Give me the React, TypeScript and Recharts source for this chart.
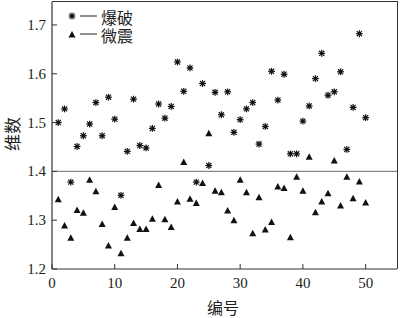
import React from "react";
import {
  ScatterChart,
  Scatter,
  XAxis,
  YAxis,
  ReferenceLine,
} from "recharts";

const ids: number[] = Array.from({ length: 50 }, (_, i) => i + 1);

const blastValues: number[] = [
  1.5, 1.528, 1.378, 1.451, 1.473, 1.497, 1.541, 1.473, 1.552, 1.507,
  1.351, 1.441, 1.548, 1.453, 1.448, 1.488, 1.538, 1.509, 1.533, 1.624,
  1.564, 1.612, 1.378, 1.58, 1.412, 1.562, 1.516, 1.563, 1.48, 1.506,
  1.528, 1.541, 1.456, 1.492, 1.605, 1.546, 1.599, 1.436, 1.436, 1.503,
  1.534, 1.59, 1.642, 1.556, 1.563, 1.604, 1.445, 1.531, 1.682, 1.51,
];

const quakeValues: number[] = [
  1.342, 1.288, 1.263, 1.32, 1.314, 1.382, 1.358, 1.291, 1.247, 1.326,
  1.231, 1.263, 1.293, 1.281, 1.281, 1.302, 1.371, 1.301, 1.285, 1.337,
  1.418, 1.343, 1.334, 1.375, 1.477, 1.359, 1.356, 1.319, 1.299, 1.382,
  1.356, 1.272, 1.346, 1.28, 1.295, 1.368, 1.365, 1.264, 1.388, 1.359,
  1.429, 1.315, 1.337, 1.354, 1.421, 1.329, 1.388, 1.344, 1.378, 1.335,
];

const seriesNames: string[] = ["爆破", "微震"];
const xTicks: number[] = [0, 10, 20, 30, 40, 50];
const yTicks: number[] = [1.2, 1.3, 1.4, 1.5, 1.6, 1.7];
const X_MIN = 0;
const X_MAX = 55;
const Y_MIN = 1.2;
const Y_MAX = 1.747;
const THRESHOLD = 1.4;

const blastData = ids.map((id, i) => ({ x: id, y: blastValues[i] }));
const quakeData = ids.map((id, i) => ({ x: id, y: quakeValues[i] }));

const AXIS = "#333";
const SERIF = "'Liberation Serif', 'Times New Roman', serif";
const CJK = "'Noto Sans CJK SC', sans-serif";

const CHART_W = 400;
const CHART_H = 318;
const MARGIN = { top: 2, right: 3, left: 0, bottom: 0 };
const Y_AXIS_W = 52;
const X_AXIS_H = 49;

const Star = (props: any) => {
  const { cx, cy } = props;
  if (cx == null || cy == null) return null;
  const r = 3.4;
  const d = r * 0.75;
  return (
    <g stroke="#111" strokeWidth={1.2}>
      <line x1={cx - r} y1={cy} x2={cx + r} y2={cy} />
      <line x1={cx} y1={cy - r} x2={cx} y2={cy + r} />
      <line x1={cx - d} y1={cy - d} x2={cx + d} y2={cy + d} />
      <line x1={cx - d} y1={cy + d} x2={cx + d} y2={cy - d} />
      <circle cx={cx} cy={cy} r={1.6} fill="#111" stroke="none" />
    </g>
  );
};

const Tri = (props: any) => {
  const { cx, cy } = props;
  if (cx == null || cy == null) return null;
  const h = 6.5;
  const w = 7;
  return (
    <polygon
      points={`${cx},${cy - h * 0.62} ${cx - w / 2},${cy + h * 0.38} ${cx + w / 2},${cy + h * 0.38}`}
      fill="#111"
    />
  );
};

const XTick = (props: any) => {
  const { x, y, payload } = props;
  return (
    <g>
      <line x1={x} y1={y} x2={x} y2={y - 5} stroke={AXIS} strokeWidth={1} />
      <text
        x={x}
        y={y + 19}
        textAnchor="middle"
        fontFamily={SERIF}
        fontSize={15}
        fill="#222"
      >
        {payload.value}
      </text>
    </g>
  );
};

const YTick = (props: any) => {
  const { x, y, payload } = props;
  return (
    <g>
      <line x1={x} y1={y} x2={x + 5} y2={y} stroke={AXIS} strokeWidth={1} />
      <text
        x={x - 6}
        y={y + 5}
        textAnchor="end"
        fontFamily={SERIF}
        fontSize={15}
        fill="#222"
      >
        {Number(payload.value).toFixed(1)}
      </text>
    </g>
  );
};

const LegendBox = () => (
  <svg
    width={90}
    height={44}
    style={{ position: "absolute", left: 62, top: 5, overflow: "visible" }}
  >
    {seriesNames.map((name, i) => {
      const cy = 11 + i * 18;
      return (
        <g key={name}>
          {i === 0 ? <Star cx={10} cy={cy} /> : <Tri cx={10} cy={cy + 1} />}
          <line x1={18} y1={cy} x2={35} y2={cy} stroke="#222" strokeWidth={1} />
          <text x={39} y={cy + 8} fontFamily={CJK} fontSize={16} fill="#222">
            {name}
          </text>
        </g>
      );
    })}
  </svg>
);

export default function App() {
  const plotLeft = MARGIN.left + Y_AXIS_W;
  const plotTop = MARGIN.top;
  const plotW = CHART_W - MARGIN.right - plotLeft;
  const plotH = CHART_H - MARGIN.bottom - X_AXIS_H - plotTop;
  return (
    <div style={{ position: "absolute", left: 0, top: 0, width: CHART_W, height: CHART_H, background: "#fff", overflow: "hidden" }}>
      <ScatterChart width={CHART_W} height={CHART_H} margin={MARGIN}>
        <XAxis
          type="number"
          dataKey="x"
          domain={[X_MIN, X_MAX]}
          ticks={xTicks}
          allowDataOverflow
          height={X_AXIS_H}
          tickSize={0}
          tickMargin={0}
          tickLine={false}
          axisLine={{ stroke: AXIS, strokeWidth: 1.2 }}
          tick={<XTick />}
          interval={0}
        />
        <YAxis
          type="number"
          dataKey="y"
          domain={[Y_MIN, Y_MAX]}
          ticks={yTicks}
          allowDataOverflow
          width={Y_AXIS_W}
          tickSize={0}
          tickMargin={0}
          tickLine={false}
          axisLine={{ stroke: AXIS, strokeWidth: 1.2 }}
          tick={<YTick />}
          interval={0}
        />
        <ReferenceLine y={THRESHOLD} stroke="#888" strokeWidth={1.2} />
        <Scatter
          name={seriesNames[0]}
          data={blastData}
          shape={<Star />}
          isAnimationActive={false}
        />
        <Scatter
          name={seriesNames[1]}
          data={quakeData}
          shape={<Tri />}
          isAnimationActive={false}
        />
      </ScatterChart>
      <div
        style={{
          position: "absolute",
          left: plotLeft,
          top: plotTop - 1,
          width: plotW + 1,
          height: plotH + 1,
          borderTop: `1.5px solid ${AXIS}`,
          borderRight: `1.5px solid ${AXIS}`,
          boxSizing: "border-box",
          pointerEvents: "none",
        }}
      />
      <LegendBox />
      <div
        style={{
          position: "absolute",
          left: 207,
          top: 299,
          fontFamily: CJK,
          fontSize: 16,
          color: "#222",
          lineHeight: "16px",
          whiteSpace: "nowrap",
        }}
      >
        编号
      </div>
      <div
        style={{
          position: "absolute",
          left: 12,
          top: 134,
          fontFamily: CJK,
          fontSize: 17,
          color: "#222",
          lineHeight: "20px",
          whiteSpace: "nowrap",
          transform: "translate(-50%, -50%) rotate(-90deg)",
        }}
      >
        维数
      </div>
    </div>
  );
}
